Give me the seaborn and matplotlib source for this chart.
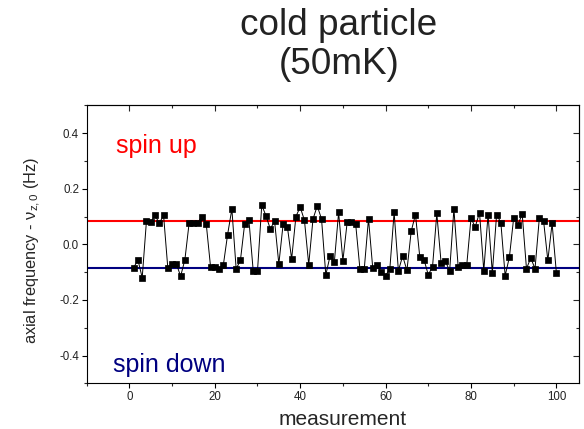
import numpy as np
import pandas as pd
import matplotlib
matplotlib.use("Agg")
import matplotlib.pyplot as plt
import seaborn as sns

# ---- data ----
measurement = list(range(1, 101))
freq = [
    -0.084, -0.056, -0.120, 0.085, 0.079, 0.105, 0.075, 0.105, -0.086, -0.070,
    -0.070, -0.115, -0.055, 0.078, 0.077, 0.078, 0.100, 0.073, -0.080, -0.080,
    -0.088, -0.075, 0.035, 0.127, -0.088, -0.058, 0.074, 0.086, -0.096, -0.096,
    0.141, 0.102, 0.055, 0.084, -0.071, 0.072, 0.063, -0.053, 0.100, 0.134,
    0.086, -0.073, 0.091, 0.138, 0.091, -0.110, -0.042, -0.064, 0.115, -0.059,
    0.079, 0.080, 0.072, -0.090, -0.090, 0.092, -0.087, -0.076, -0.100, -0.113,
    -0.088, 0.115, -0.095, -0.042, -0.094, 0.047, 0.107, -0.044, -0.055, -0.110,
    -0.080, 0.111, -0.066, -0.059, -0.097, 0.127, -0.081, -0.076, -0.076, 0.093,
    0.063, 0.114, -0.095, 0.107, -0.103, 0.107, 0.078, -0.113, -0.046, 0.095,
    0.071, 0.108, -0.088, -0.049, -0.088, 0.093, 0.085, -0.058, 0.075, -0.102,
]
spin_up_level = 0.084
spin_down_level = -0.086
title_lines = ["cold particle", "(50mK)"]
xticks_major = [0, 20, 40, 60, 80, 100]
yticks_major = [-0.4, -0.2, 0.0, 0.2, 0.4]

df = pd.DataFrame({"measurement": measurement, "freq": freq})

sns.set_style("ticks")
plt.rcParams["font.family"] = ["Liberation Sans", "DejaVu Sans"]
plt.rcParams["mathtext.fontset"] = "custom"
plt.rcParams["mathtext.rm"] = "Liberation Sans"
plt.rcParams["mathtext.it"] = "Liberation Sans:italic"

W, H = 584, 429
fig = plt.figure(figsize=(W / 100, H / 100), dpi=100)
ax = fig.add_axes([86.7 / W, 1 - 383.3 / H, (579 - 86.7) / W, (383.3 - 105.3) / H])

ax.axhline(spin_up_level, color="#ff0000", lw=1.5, zorder=1)
ax.axhline(spin_down_level, color="#000080", lw=1.5, zorder=1)

sns.lineplot(data=df, x="measurement", y="freq", ax=ax, color="black",
             linewidth=0.7, marker="s", markersize=5, markeredgecolor="black",
             markeredgewidth=0.5, zorder=3)

ax.set_xlim(-10, 105.3)
ax.set_ylim(-0.5, 0.5)
ax.set_xticks(xticks_major)
ax.set_xticks([-10, 10, 30, 50, 70, 90], minor=True)
ax.set_yticks(yticks_major)
ax.set_yticks([-0.5, -0.3, -0.1, 0.1, 0.3, 0.5], minor=True)
ax.set_yticklabels([f"{v:.1f}" for v in yticks_major])

for s in ax.spines.values():
    s.set_linewidth(0.8)
    s.set_color("black")
    s.set_visible(True)

ax.tick_params(axis="both", which="major", direction="out", length=3.5,
               width=0.8, labelsize=8.3, colors="black", labelcolor="#222222", pad=2)
ax.tick_params(axis="both", which="minor", direction="out", length=2.5, width=0.8)

top = ax.secondary_xaxis("top")
top.set_xticks(list(range(0, 101, 20)))
top.set_xticks([10, 30, 50, 70, 90], minor=True)
top.tick_params(which="major", direction="in", length=4, width=0.8, labeltop=False)
top.tick_params(which="minor", direction="in", length=2.5, width=0.8)
top.spines["top"].set_linewidth(0.8)

right = ax.secondary_yaxis("right")
right.set_yticks(yticks_major)
right.set_yticks([-0.3, -0.1, 0.1, 0.3], minor=True)
right.tick_params(which="major", direction="in", length=4, width=0.8, labelright=False)
right.tick_params(which="minor", direction="in", length=2.5, width=0.8)
right.spines["right"].set_linewidth(0.8)

ax.set_xlabel("measurement", fontsize=15)
ax.xaxis.set_label_coords((342.5 - 86.7) / (579 - 86.7), -(425 - 383.3) / (383.3 - 105.3))
ax.xaxis.label.set_va("baseline")
ax.set_ylabel(r"axial frequency - $\mathregular{\nu_{z,0}}$ (Hz)", fontsize=11.8)
ax.yaxis.set_label_coords(-(86.7 - 33) / (579 - 86.7), (383.3 - 250) / (383.3 - 105.3))
ax.yaxis.label.set_va("center")

ax.text(-3.1, 0.328, "spin up", color="#ff0000", fontsize=18, ha="left", va="baseline")
ax.text(-3.8, -0.46, "spin down", color="#000080", fontsize=18, ha="left", va="baseline")

fig.text(338.7 / W, 1 - 35 / H, title_lines[0], fontsize=26.6, ha="center",
         va="baseline", color="#222222")
fig.text(338.7 / W, 1 - 74 / H, title_lines[1], fontsize=26.6, ha="center",
         va="baseline", color="#222222")

fig.savefig("out.png", dpi=100)
